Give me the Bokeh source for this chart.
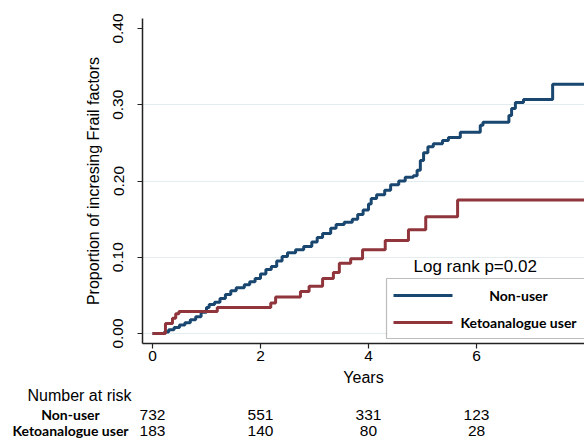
from bokeh.plotting import figure
from bokeh.layouts import column
from bokeh.models import FixedTicker, Label, BoxAnnotation, Range1d, NumeralTickFormatter
from bokeh.core.properties import value
from bokeh.embed import file_html
from bokeh.resources import INLINE

# ---- data ----
nonuser_time = [0.0, 0.22, 0.3, 0.4, 0.5, 0.6, 0.7, 0.8, 0.9, 1.0, 1.05, 1.15, 1.25, 1.35,
                1.45, 1.55, 1.7, 1.8, 1.9, 2.0, 2.1, 2.2, 2.3, 2.4, 2.5, 2.65, 2.8, 2.95,
                3.05, 3.15, 3.3, 3.4, 3.55, 3.7, 3.8, 3.9, 4.0, 4.05, 4.15, 4.3, 4.41, 4.56,
                4.68, 4.83, 4.9, 4.96, 5.02, 5.1, 5.2, 5.37, 5.48, 5.7, 6.07, 6.12, 6.6,
                6.65, 6.72, 6.87, 7.41, 8.0]
nonuser_prop = [0.0, 0.002, 0.005, 0.008, 0.011, 0.014, 0.018, 0.022, 0.028, 0.034, 0.038,
                0.041, 0.046, 0.051, 0.056, 0.060, 0.064, 0.068, 0.072, 0.078, 0.084, 0.088,
                0.095, 0.101, 0.106, 0.110, 0.114, 0.120, 0.126, 0.131, 0.138, 0.143, 0.146,
                0.150, 0.156, 0.162, 0.170, 0.177, 0.182, 0.188, 0.195, 0.200, 0.205, 0.207,
                0.214, 0.227, 0.237, 0.245, 0.249, 0.253, 0.257, 0.264, 0.273, 0.277, 0.286,
                0.295, 0.303, 0.307, 0.327, 0.327]

keto_time = [0.0, 0.24, 0.37, 0.43, 0.49, 1.2, 2.19, 2.28, 2.74, 2.9, 3.15, 3.35, 3.46,
             3.67, 3.89, 4.31, 4.74, 5.06, 5.65, 8.0]
keto_prop = [0.0, 0.013, 0.020, 0.026, 0.029, 0.034, 0.040, 0.048, 0.055, 0.062, 0.072,
             0.080, 0.092, 0.098, 0.110, 0.122, 0.136, 0.153, 0.175, 0.175]

x_ticks = [0, 2, 4, 6]
y_ticks = [0.0, 0.1, 0.2, 0.3, 0.4]
grid_ticks = [0.0, 0.1, 0.2, 0.3]

group_names = ["Non-user", "Ketoanalogue user"]
risk_years = [0, 2, 4, 6]
nonuser_at_risk = [732, 551, 331, 123]
keto_at_risk = [183, 140, 80, 28]

NAVY = "#1a476f"
MAROON = "#90353b"
SANS = "Liberation Sans"
BOLD = "Lato"

X0, X1 = -0.185, 8.0

p = figure(width=584, height=388, output_backend="svg", toolbar_location=None,
           x_range=Range1d(X0, X1), y_range=Range1d(-0.0131, 0.4131),
           min_border_left=142, min_border_right=0, min_border_top=18,
           min_border_bottom=45)
p.background_fill_color = "white"
p.border_fill_color = "white"
p.outline_line_color = None
p.frame_align = False

p.step(nonuser_time, nonuser_prop, mode="after", line_color=NAVY, line_width=3)
p.step(keto_time, keto_prop, mode="after", line_color=MAROON, line_width=3)

# axes
p.xaxis.ticker = FixedTicker(ticks=x_ticks)
p.yaxis.ticker = FixedTicker(ticks=y_ticks)
p.yaxis.formatter = NumeralTickFormatter(format="0.00")
p.yaxis.major_label_orientation = "parallel"
for ax in (p.xaxis, p.yaxis):
    ax.minor_tick_line_color = None
    ax.major_tick_in = 0
    ax.major_tick_out = 5
    ax.axis_line_color = "#222222"
    ax.axis_line_width = 1.5
    ax.major_tick_line_color = "#222222"
    ax.major_tick_line_width = 1.2
    ax.major_label_text_font = SANS
    ax.major_label_text_font_size = "15.5px"
    ax.major_label_text_color = "black"
    ax.axis_label_text_font = SANS
    ax.axis_label_text_font_size = "16px"
    ax.axis_label_text_font_style = "normal"
    ax.axis_label_text_color = "black"
p.xaxis.axis_label = "Years"
p.yaxis.axis_label = "Proportion of incresing Frail factors"
p.yaxis.major_label_standoff = 14
p.yaxis.axis_label_standoff = 9
p.xaxis.major_label_standoff = 2
p.xaxis.axis_label_standoff = 5

p.xgrid.grid_line_color = None
p.ygrid.ticker = FixedTicker(ticks=grid_ticks)
p.ygrid.grid_line_color = "#e3ecef"
p.ygrid.grid_line_width = 1

# legend box (drawn by hand, partly cut by the right edge like the reference)
def sbox(**kw):
    return BoxAnnotation(left_units="screen", right_units="screen",
                         bottom_units="screen", top_units="screen", **kw)

p.add_layout(sbox(left=244, right=470, bottom=5, top=65, fill_color="white",
                  fill_alpha=1, line_color="#222222", line_width=1.2))
p.add_layout(sbox(left=251, right=310, bottom=46.5, top=49.5, fill_color=NAVY,
                  fill_alpha=1, line_color=None))
p.add_layout(sbox(left=251, right=310, bottom=19.5, top=22.5, fill_color=MAROON,
                  fill_alpha=1, line_color=None))
for name, yy in zip(group_names, [48, 21]):
    p.add_layout(Label(x=376, y=yy, x_units="screen", y_units="screen", text=name,
                       text_align="center", text_baseline="middle",
                       text_font=BOLD, text_font_style="bold",
                       text_font_size="14px", text_color="black"))
p.add_layout(Label(x=271, y=77, x_units="screen", y_units="screen",
                   text="Log rank p=0.02", text_align="left", text_baseline="middle",
                   text_font=SANS, text_font_size="17px", text_color="black"))

# number-at-risk table: a second figure sharing the same year-to-pixel mapping
T_H = 50
px_per_year = (584 - 142) / (X1 - X0)
t = figure(width=584, height=T_H, output_backend="svg", toolbar_location=None,
           x_range=Range1d(X0 - 142 / px_per_year, X1), y_range=Range1d(T_H, 0),
           x_axis_location=None, y_axis_location=None,
           min_border_left=0, min_border_right=0, min_border_top=0, min_border_bottom=0)
t.outline_line_color = None
t.grid.visible = False
t.background_fill_color = "white"
t.border_fill_color = "white"
t.frame_align = False

row_y = [26, 42]
t.add_layout(Label(x=79, y=T_H - 7, x_units="screen", y_units="screen",
                   text="Number at risk", text_align="center", text_baseline="middle",
                   text_font=SANS, text_font_size="16px", text_color="black"))
for name, counts, yy in zip(group_names, [nonuser_at_risk, keto_at_risk], row_y):
    t.add_layout(Label(x=70, y=T_H - yy, x_units="screen", y_units="screen", text=name,
                       text_align="center", text_baseline="middle",
                       text_font=BOLD, text_font_style="bold",
                       text_font_size="14px", text_color="black"))
    t.text(x=risk_years, y=[yy] * len(risk_years), text=[str(c) for c in counts],
           text_align="center", text_baseline="middle", text_font=value(SANS),
           text_font_size="15.5px", text_color="black")

layout = column(p, t, spacing=0)
open("out.html", "w").write(file_html(layout, INLINE))
